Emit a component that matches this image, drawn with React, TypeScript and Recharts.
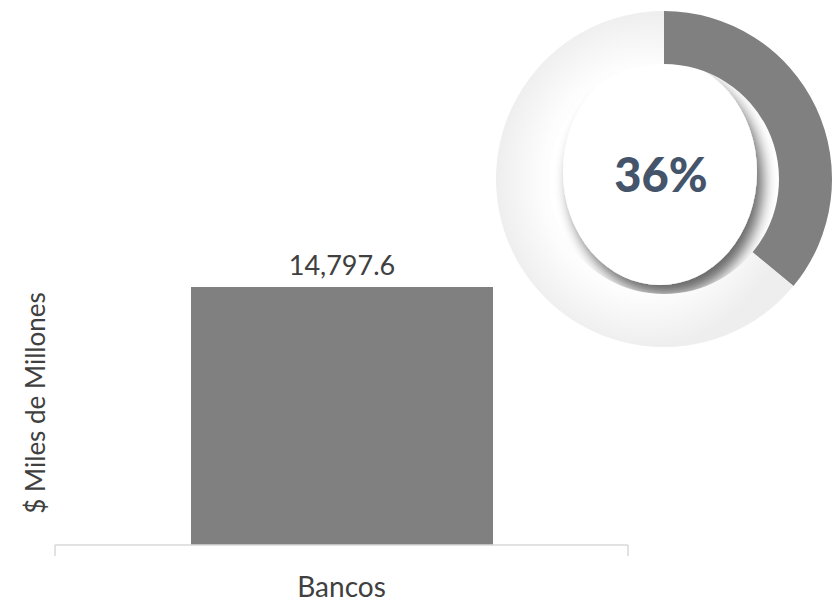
import React from 'react';
import { BarChart, Bar, XAxis, YAxis, LabelList, PieChart, Pie, Cell, Customized } from 'recharts';

const categories = ['Bancos'];
const barValues = [14797.6];
const donutValues = [36, 64];
const yLabel = '$ Miles de Millones';

const barData = categories.map((c, i) => ({ name: c, value: barValues[i] }));
const donutData = donutValues.map((v, i) => ({ name: i === 0 ? 'share' : 'rest', value: v }));

const FONT = 'Lato, "Open Sans", sans-serif';
const TEXT = '#404040';
const AXIS = '#d9d9d9';

const W = 836;
const H = 602;
const MARGIN = { top: 22, right: 208, left: 55, bottom: 0 };
const XAXIS_H = 57;

const fmt = (v: number) => v.toLocaleString('en-US', { minimumFractionDigits: 1, maximumFractionDigits: 1 });

const EdgeTicks = () => {
  const y = H - MARGIN.bottom - XAXIS_H;
  const xs = [MARGIN.left, W - MARGIN.right];
  return (
    <g>
      {xs.map((x) => (
        <line key={x} x1={x} x2={x} y1={y} y2={y + 11} stroke={AXIS} strokeWidth={1.5} />
      ))}
    </g>
  );
};

export default function App() {
  return (
    <div style={{ position: 'absolute', left: 0, top: 0, width: W, height: H, background: '#fff' }}>
      <div style={{ position: 'absolute', left: 0, top: 0 }}>
        <BarChart width={W} height={H} data={barData} margin={MARGIN}>
          <XAxis dataKey="name" axisLine={{ stroke: AXIS, strokeWidth: 1.5 }} tickLine={false}
            tickSize={0} tickMargin={32} height={XAXIS_H}
            tick={{ fill: TEXT, fontSize: 28, fontFamily: FONT }} />
          <YAxis hide domain={[0, 30000]} />
          <Bar dataKey="value" fill="#808080" barSize={302} isAnimationActive={false}>
            <LabelList dataKey="value" position="top" offset={12} formatter={(v: any) => fmt(Number(v))}
              style={{ fill: TEXT, fontSize: 27, fontFamily: FONT }} />
          </Bar>
          <Customized component={EdgeTicks} />
          <Customized component={() => (
            <text x={35} y={403} transform="rotate(-90 35 403)" textAnchor="middle" dominantBaseline="central"
              fill={TEXT} fontSize={26} fontFamily={FONT}>{yLabel}</text>
          )} />
        </BarChart>
      </div>
      <div style={{ position: 'absolute', left: 0, top: 0 }}>
        <PieChart width={W} height={H}>
          <defs>
            <radialGradient id="ringGrad" cx="50%" cy="50%" r="50%">
              <stop offset="0%" stopColor="#ffffff" />
              <stop offset="68%" stopColor="#fdfdfd" />
              <stop offset="100%" stopColor="#eeeeee" />
            </radialGradient>
            <filter id="discShadow" x="-30%" y="-30%" width="160%" height="160%">
              <feGaussianBlur in="SourceAlpha" stdDeviation="7" />
              <feOffset dx="6" dy="10" result="b" />
              <feComponentTransfer>
                <feFuncA type="linear" slope="0.6" />
              </feComponentTransfer>
              <feMerge>
                <feMergeNode />
                <feMergeNode in="SourceGraphic" />
              </feMerge>
            </filter>
          </defs>
          <Pie data={donutData} dataKey="value" cx={659} cy={174} innerRadius={115} outerRadius={168}
            startAngle={90} endAngle={-270} stroke="none" isAnimationActive={false}>
            <Cell fill="#808080" />
            <Cell fill="url(#ringGrad)" />
          </Pie>
          <Customized component={() => (
            <g>
              <ellipse cx={660} cy={172} rx={97} ry={113} fill="#ffffff" filter="url(#discShadow)" />
              <text x={661} y={174} textAnchor="middle" dominantBaseline="central" fill="#44546A"
                fontSize={47} fontWeight={900} fontFamily={FONT}>{`${donutValues[0]}%`}</text>
            </g>
          )} />
        </PieChart>
      </div>
    </div>
  );
}
